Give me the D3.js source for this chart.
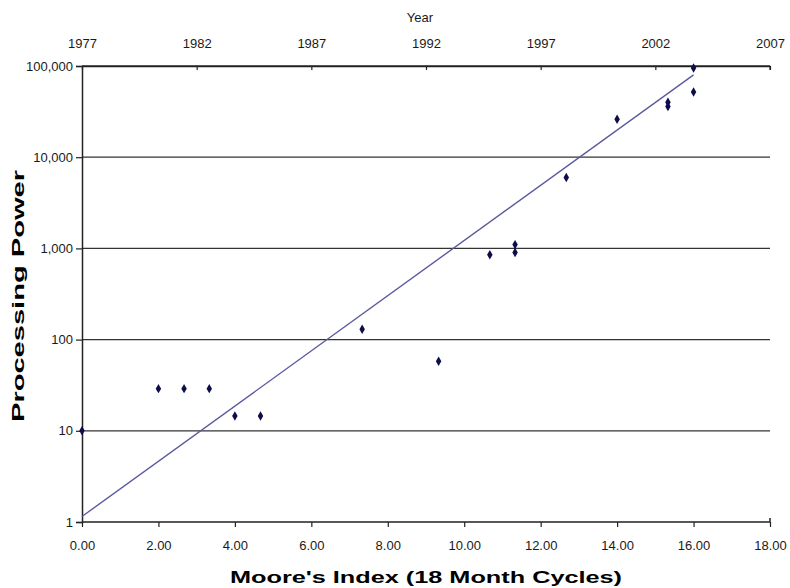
<!DOCTYPE html>
<html><head><meta charset="utf-8">
<script src="https://cdn.jsdelivr.net/npm/d3@7"></script>
<style>body{margin:0;background:#fff;} svg{display:block;font-family:"Liberation Sans",Arial,sans-serif;}</style>
</head><body>
<script>
// Data
const mooreIndex = [0, 2.0, 2.67, 3.33, 4.0, 4.67, 7.33, 9.33, 10.67, 11.33, 11.33, 12.67, 14.0, 15.33, 15.33, 16.0, 16.0];
const power      = [10, 29, 29, 29, 14.5, 14.5, 130, 58, 850, 900, 1100, 6000, 26000, 36000, 40000, 52000, 95000];
const trendX = [0, 16];
const trendY = [1.15, 80000];
const xTicks = [0, 2, 4, 6, 8, 10, 12, 14, 16, 18];
const yearTicks = [1977, 1982, 1987, 1992, 1997, 2002, 2007];
const yTicks = [1, 10, 100, 1000, 10000, 100000];

const W = 790, H = 588;
const L = 82, R = 770, T = 66, B = 522;
const svg = d3.select("body").append("svg").attr("width", W).attr("height", H);

const x = d3.scaleLinear().domain([0, 18]).range([L, R]);
const xYear = d3.scaleLinear().domain([1977, 2007]).range([L, R]);
const y = d3.scaleLog().domain([1, 100000]).range([B, T]);

const fmtY = d3.format(",");
const axisColor = "#222";
const tickFont = "'Liberation Sans Narrow','Liberation Sans',Arial,sans-serif";

// gridlines
svg.append("g").selectAll("line").data(yTicks.filter(d => d > 1)).join("line")
  .attr("x1", L).attr("x2", R).attr("y1", d => y(d)).attr("y2", d => y(d))
  .attr("stroke", "#333").attr("stroke-width", 1.3);

// bottom axis
const gx = svg.append("g").attr("transform", `translate(0,${B})`)
  .call(d3.axisBottom(x).tickValues(xTicks).tickFormat(d3.format(".2f")).tickSize(5).tickPadding(14));
// top axis
const gt = svg.append("g").attr("transform", `translate(0,${T})`)
  .call(d3.axisTop(xYear).tickValues(yearTicks).tickFormat(d3.format("d")).tickSizeInner(-4).tickSizeOuter(0).tickPadding(18));
// left axis
const gy = svg.append("g").attr("transform", `translate(${L},0)`)
  .call(d3.axisLeft(y).tickValues(yTicks).tickFormat(fmtY).tickSize(6).tickPadding(3));

[gx, gt, gy].forEach(g => {
  g.select(".domain").attr("stroke", axisColor).attr("stroke-width", 1.5);
  g.selectAll(".tick line").attr("stroke", axisColor).attr("stroke-width", 1.2);
  g.selectAll("text").attr("font-size", 13).attr("fill", "#1a1a1a")
    .attr("font-family", tickFont);
});
gx.select(".domain").attr("d", `M${L},0H${R}V-4`);
// right end tick on top
svg.append("line").attr("x1", R).attr("x2", R).attr("y1", T).attr("y2", T + 4)
  .attr("stroke", axisColor).attr("stroke-width", 1.2);

// trend line
svg.append("line")
  .attr("x1", x(trendX[0])).attr("y1", y(trendY[0]))
  .attr("x2", x(trendX[1])).attr("y2", y(trendY[1]))
  .attr("stroke", "#5a5a9e").attr("stroke-width", 1.4);

// points
const diamond = d3.symbol().type(d3.symbolDiamond).size(26);
svg.append("g").selectAll("path").data(mooreIndex.map((d, i) => [d, power[i]])).join("path")
  .attr("d", diamond)
  .attr("transform", d => `translate(${x(d[0])},${y(d[1])})`)
  .attr("fill", "#0d0d4a");

// titles
svg.append("text").attr("x", 420).attr("y", 22).attr("text-anchor", "middle")
  .attr("font-size", 13).attr("fill", "#1a1a1a")
  .attr("font-family", tickFont).text("Year");
svg.append("text").attr("x", 426).attr("y", 583).attr("text-anchor", "middle")
  .attr("font-size", 16).attr("font-weight", "bold").attr("fill", "#000")
  .attr("textLength", 392).attr("lengthAdjust", "spacingAndGlyphs")
  .text("Moore's Index (18 Month Cycles)");
svg.append("text").attr("transform", "translate(24,296) rotate(-90)").attr("text-anchor", "middle")
  .attr("font-size", 16).attr("font-weight", "bold").attr("fill", "#000")
  .attr("textLength", 252).attr("lengthAdjust", "spacingAndGlyphs")
  .text("Processing Power");
</script>
</body></html>
